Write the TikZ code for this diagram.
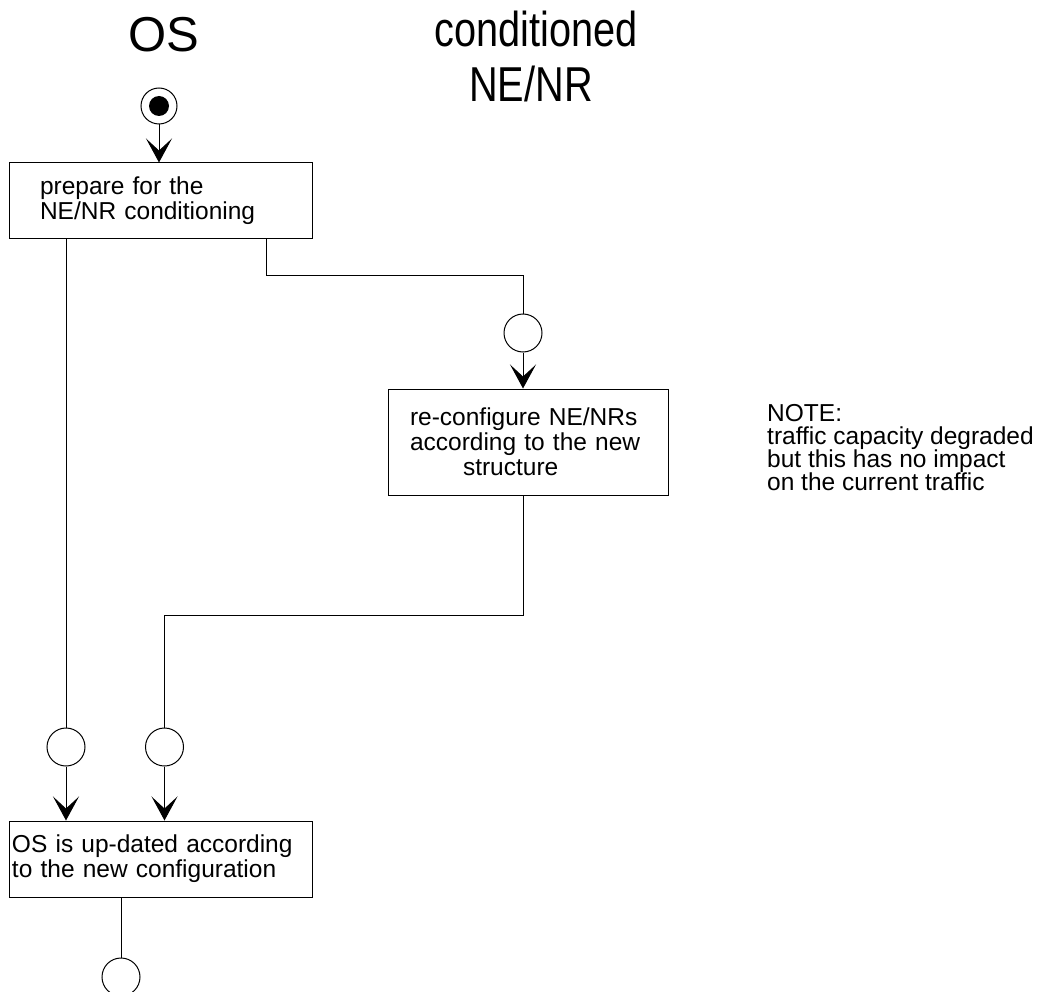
\documentclass[tikz,border=0pt]{standalone}
\usepackage{fontspec}
\setmainfont{Liberation Sans}
\usetikzlibrary{arrows.meta}
\begin{document}
\begin{tikzpicture}[x=1pt,y=-1pt,
  flow/.style={line width=1pt},
  arr/.style={flow,-{Stealth[length=24pt,width=26pt,inset=12pt]}},
  stepbox/.style={draw,line width=1pt,font=\fontsize{24.5}{25}\selectfont,
    align=left,inner ysep=0pt,anchor=center},
  conn/.style={draw,circle,line width=1pt,minimum size=38pt,inner sep=0pt},
  title/.style={font=\fontsize{49}{55}\selectfont,inner sep=0pt,anchor=base},
  notetext/.style={font=\fontsize{24.5}{23}\selectfont,align=left,
    anchor=north west,inner sep=0pt}]
\useasboundingbox (0,0) rectangle (1038,992);

% swimlane headings
\node[title] (os) at (164,52) {OS};
\node[title] (condA) at (536,47) {\scalebox{0.81}[1]{conditioned}};
\node[title] (condB) at (531,102) {\scalebox{0.81}[1]{NE/NR}};

% initial state
\node[conn,minimum size=36pt] (start) at (159,106) {};
\node[circle,fill,minimum size=20pt,inner sep=0pt] (startdot) at (start.center) {};

% activities
\node[stepbox,text width=241pt,inner xsep=31pt,minimum height=76pt] (prep)
  at (160.5,201) {prepare for the\\NE/NR conditioning};
\node[stepbox,text width=236pt,inner xsep=22pt,minimum height=106pt] (reconf)
  at (528,442) {re-configure NE/NRs\\according to the new\\\hspace*{53pt}structure};
\node[stepbox,text width=297pt,inner xsep=3pt,minimum height=76pt] (upd)
  at (160.5,859) {OS is up-dated according\\to the new configuration};

% synchronisation circles
\node[conn] (c2) at (523,333) {};
\node[conn] (c3) at (66,747) {};
\node[conn] (c4) at (164.5,747) {};
\node[conn] (c5) at (121,977) {};

% note
\node[notetext] (note) at (767,404.5)
  {NOTE:\\traffic capacity degraded\\but this has no impact\\on the current traffic};

% bends
\coordinate (j1) at (266,275);
\coordinate (j2) at (523,615);

% connectors
\draw[arr] (start.south) -- (start.south |- prep.north);
\draw[flow] (prep.south -| c3.north) -- (c3.north);
\draw[flow] (prep.south -| j1) -- (j1) -| (c2.north);
\draw[arr] (c2.south) -- (c2.south |- reconf.north);
\draw[flow] (reconf.south -| j2) -- (j2) -| (c4.north);
\draw[arr] (c3.south) -- (c3.south |- upd.north);
\draw[arr] (c4.south) -- (c4.south |- upd.north);
\draw[flow] (upd.south -| c5.north) -- (c5.north);
\end{tikzpicture}
\end{document}
